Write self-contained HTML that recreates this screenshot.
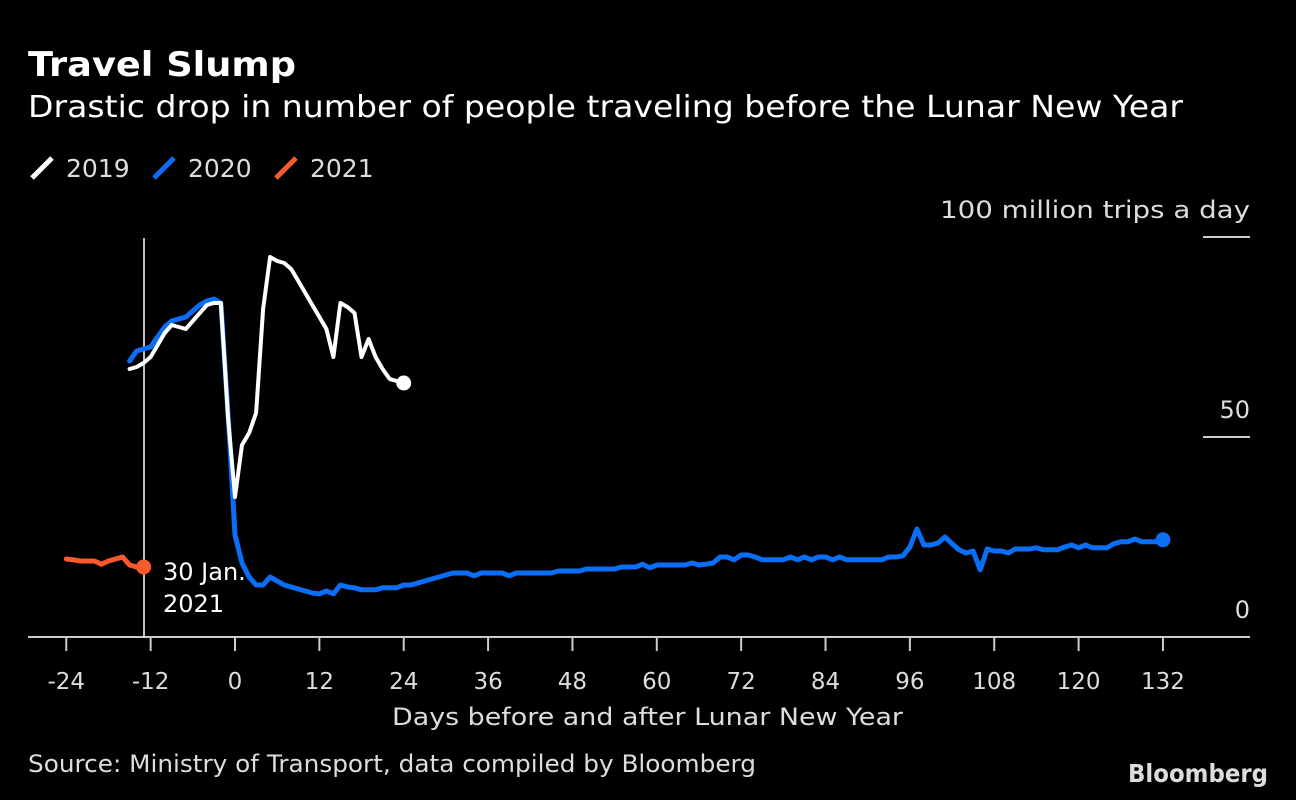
<!DOCTYPE html>
<html><head><meta charset="utf-8"><style>
body{margin:0;background:#000;width:1296px;height:800px;overflow:hidden;font-family:"DejaVu Sans","Liberation Sans",sans-serif;color:#fff}
</style></head><body>
<svg id="c" width="1296" height="800" style="position:absolute;left:0;top:0;font-family:'DejaVu Sans','Liberation Sans',sans-serif">
<text x="28" y="76" font-size="34" font-weight="bold" fill="#fff" textLength="268" lengthAdjust="spacingAndGlyphs">Travel Slump</text>
<text x="28" y="117" font-size="30" fill="#fff" textLength="1155" lengthAdjust="spacingAndGlyphs">Drastic drop in number of people traveling before the Lunar New Year</text>
<text x="28" y="772" font-size="24" fill="#ddd" textLength="728" lengthAdjust="spacingAndGlyphs">Source: Ministry of Transport, data compiled by Bloomberg</text>
<text x="1128" y="782" font-size="25" font-weight="bold" fill="#ddd" textLength="140" lengthAdjust="spacingAndGlyphs">Bloomberg</text>
</svg>
<script>
const xTicks=[-24,-12,0,12,24,36,48,60,72,84,96,108,120,132];
const yTicks=[0,50,100];
const yTickLabels=["0","50","100 million trips a day"];
const seriesNames=["2019","2020","2021"];
const days2021=[-24,-23,-22,-21,-20,-19,-18,-17,-16,-15,-14,-13];
const vals2021=[19.5,19.3,19,19,19,18.2,19,19.5,20,18,17.5,17.5];
const start2019=-15;
const vals2019=[67,67.5,68.5,70,73,76,78,77.5,77,79,81,83,83.5,83.5,55,35,48,51,56,82,95,94,93.5,92,89,86,83,80,77,70,83.5,82.5,81,70,74.5,70,67,64.5,64,63.5];
const start2020=-15;
const vals2020=[69,71.5,72,72.5,75,77.5,79,79.5,80,81.5,83,84,84.5,83.5,56,25.5,18.5,15,13,13,15,14,13,12.5,12,11.5,11,10.8,11.5,10.8,13,12.5,12.3,11.8,11.8,11.8,12.3,12.3,12.3,13,13,13.5,14,14.5,15,15.5,16,16,16,15.3,16,16,16,16,15.3,16,16,16,16,16,16,16.5,16.5,16.5,16.5,17,17,17,17,17,17.5,17.5,17.5,18.2,17.3,18,18,18,18,18,18.5,18,18.2,18.5,20,20,19.3,20.5,20.5,20,19.3,19.3,19.3,19.3,20,19.3,20,19.3,20,20,19.3,20,19.3,19.3,19.3,19.3,19.3,19.3,20,20,20.3,22.5,27,23,23,23.5,25,23.3,21.8,21,21.5,16.8,22,21.5,21.5,21,22,22,22,22.3,21.8,21.8,21.8,22.5,23,22.3,23,22.3,22.3,22.3,23.3,23.8,23.8,24.5,23.8,23.8,23.8,24.3];
const X=d=>235+7.03*d, Y=v=>637-4*v;
const svg=document.getElementById('c'), NS='http://www.w3.org/2000/svg';
function mk(t,a){const e=document.createElementNS(NS,t);for(const k in a)e.setAttribute(k,a[k]);svg.appendChild(e);return e;}
let ax=mk('line',{x1:28,x2:1250,y1:637,y2:637,stroke:'#ccc','stroke-width':2});

xTicks.forEach(d=>{
 let l=mk('line',{x1:X(d),x2:X(d),y1:637,y2:651,stroke:'#ccc','stroke-width':2});
 
 let t=mk('text',{x:X(d),y:689,'text-anchor':'middle','font-size':23,fill:'#ddd'});t.textContent=String(d);
 
});
let xt=mk('text',{x:392,y:725,'font-size':24,fill:'#ddd',textLength:511,lengthAdjust:'spacingAndGlyphs'});xt.textContent='Days before and after Lunar New Year';

yTicks.forEach((v,i)=>{
 if(v>0){let g=mk('line',{x1:1203,x2:1250,y1:Y(v),y2:Y(v),stroke:'#ccc','stroke-width':2});
 }
 const attrs={x:1250,y:Y(v)-19,'text-anchor':'end','font-size':24,fill:'#ddd'};
 if(v===100){attrs.textLength=310;attrs.lengthAdjust='spacingAndGlyphs';}
 let t=mk('text',attrs);t.textContent=yTickLabels[i];
 
});
let vl=mk('line',{x1:144,x2:144,y1:238,y2:637,stroke:'#fff','stroke-width':1.5});

function series(days,vals,col,w,name){
 const p=days.map((d,i)=>X(d).toFixed(1)+','+Y(vals[i]).toFixed(1)).join(' ');
 let pl=mk('polyline',{points:p,fill:'none',stroke:col,'stroke-width':w,'stroke-linejoin':'round','stroke-linecap':'round'});
 
 let c=mk('circle',{cx:X(days[days.length-1]),cy:Y(vals[vals.length-1]),r:7.5,fill:col});
 
}
series(vals2020.map((v,i)=>start2020+i),vals2020,'#0a6ef7',5,'2020');
series(vals2019.map((v,i)=>start2019+i),vals2019,'#fff',4,'2019');
series(days2021,vals2021,'#f95a2c',5,'2021');
let an=mk('text',{x:163,y:580,'font-size':24,fill:'#fff'});an.textContent='30 Jan.';

let an2=mk('text',{x:163,y:612,'font-size':24,fill:'#fff'});an2.textContent='2021';

const legCols=['#fff','#0a6ef7','#f95a2c'],legX=[30,152,274];
seriesNames.forEach((n,i)=>{
 let l=mk('line',{x1:legX[i]+2,y1:178,x2:legX[i]+22,y2:158,stroke:legCols[i],'stroke-width':5});
 
 let t=mk('text',{x:legX[i]+36,y:177,'font-size':25,fill:'#ddd'});t.textContent=n;
 
});
</script>
</body></html>
